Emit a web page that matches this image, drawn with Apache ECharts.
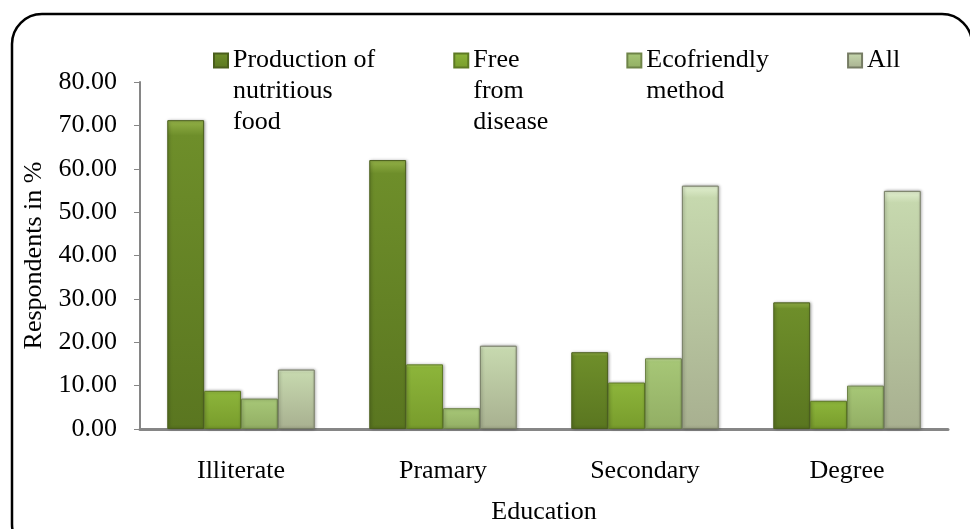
<!DOCTYPE html>
<html>
<head>
<meta charset="utf-8">
<title>Education chart</title>
<script src="https://cdn.jsdelivr.net/npm/echarts@6/dist/echarts.min.js"></script>
<style>
    html, body { margin: 0; padding: 0; background: #fff; }
    #bar { width: 970px; height: 529px; }
</style>
</head>
<body>
<div id="bar"></div>
<script>
var categories = ["Illiterate", "Pramary", "Secondary", "Degree"];
var seriesNames = ["Production of nutritious food", "Free from disease", "Ecofriendly method", "All"];
// legend text as wrapped in the picture
var legendLines = [
    ["Production of", "nutritious", "food"],
    ["Free", "from", "disease"],
    ["Ecofriendly", "method"],
    ["All"]
];
var nutritiousFood = [71.2, 62.0, 17.7, 29.2];
var freeFromDisease = [8.8, 14.9, 10.7, 6.5];
var ecofriendly = [7.0, 4.8, 16.3, 10.0];
var allOfThem = [13.7, 19.2, 56.1, 54.9];
var yTicks = [0, 10, 20, 30, 40, 50, 60, 70, 80];

var font = "Liberation Serif";

// top, middle, bottom, border
var colors = [
    ["#94b248", "#6e8e2a", "#5a7620", "#4a5e1c"],
    ["#b0d45e", "#8cb43a", "#789c2c", "#5e7a24"],
    ["#c8e29c", "#a6c676", "#92ae64", "#6e8448"],
    ["#e2f0d0", "#c6d8ae", "#a8b090", "#767c64"]
];

function barStyle(c) {
    return {
        color: {
            type: "linear", x: 0, y: 0, x2: 0, y2: 1,
            colorStops: [
                {offset: 0, color: c[0]},
                {offset: 0.05, color: c[1]},
                {offset: 1, color: c[2]}
            ]
        },
        borderColor: c[3],
        borderWidth: 1,
        shadowColor: "rgba(0,0,0,0.35)",
        shadowBlur: 3,
        shadowOffsetX: 1
    };
}

var values = [nutritiousFood, freeFromDisease, ecofriendly, allOfThem];
var series = [];
for (var i = 0; i < values.length; i++) {
    series.push({
        name: seriesNames[i],
        type: "bar",
        data: values[i],
        barGap: "0%",
        barCategoryGap: "27%",
        itemStyle: barStyle(colors[i])
    });
}

var myChart = echarts.init(document.getElementById("bar"));
var option = {
    animation: false,
    backgroundColor: "#fff",
    textStyle: {fontFamily: font},
    graphic: [{
        type: "rect",
        shape: {x: 12, y: 14, width: 960, height: 540, r: 30},
        style: {fill: "none", stroke: "#000", lineWidth: 2.5},
        z: 100
    }],
    legend: {
        left: 208,
        top: -22,
        itemWidth: 14,
        itemHeight: 14,
        itemGap: 78,
        icon: "rect",
        // blank lines first so the icon sits beside the first line
        formatter: function(name) {
            var lines = legendLines[seriesNames.indexOf(name)];
            var out = [];
            for (var k = 1; k < lines.length; k++) out.push(" ");
            return out.concat(lines).join("\n");
        },
        textStyle: {fontFamily: font, fontSize: 26, color: "#000", lineHeight: 31}
    },
    grid: {left: 140, right: 22, top: 82, bottom: 100, outerBoundsMode: "none"},
    xAxis: {
        type: "category",
        data: categories,
        name: "Education",
        nameLocation: "middle",
        nameGap: 70,
        nameTextStyle: {fontFamily: font, fontSize: 26, color: "#000"},
        axisLine: {lineStyle: {color: "#868686", width: 3}},
        axisTick: {show: false},
        axisLabel: {fontFamily: font, fontSize: 26, color: "#000", margin: 29}
    },
    yAxis: {
        type: "value",
        min: yTicks[0],
        max: yTicks[yTicks.length - 1],
        interval: yTicks[1] - yTicks[0],
        name: "Respondents in %",
        nameLocation: "middle",
        nameGap: 89,
        nameTextStyle: {fontFamily: font, fontSize: 26, color: "#000"},
        axisLine: {show: true, lineStyle: {color: "#868686", width: 2}},
        axisTick: {show: true, length: 6, lineStyle: {color: "#868686"}},
        splitLine: {show: false},
        axisLabel: {
            fontFamily: font, fontSize: 26, color: "#000", margin: 23,
            formatter: function(v) { return v.toFixed(2); }
        }
    },
    series: series
};
myChart.setOption(option);
</script>
</body>
</html>
